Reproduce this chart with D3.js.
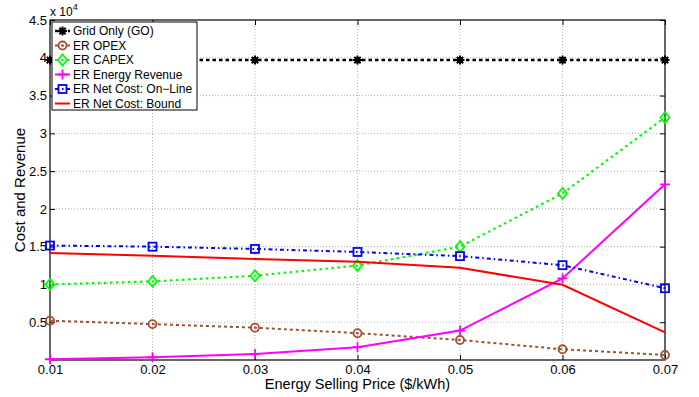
<!DOCTYPE html>
<html>
<head>
<meta charset="utf-8">
<script src="https://cdn.jsdelivr.net/npm/d3@7"></script>
<style>
    body { margin: 0; background: #fff; }
    text { font-family: "Liberation Sans", Arial, Helvetica, sans-serif; fill: #000; }
</style>
</head>
<body>
<div id="chartDiv"></div>
<script>
"use strict";

// chart data
var prices = [0.01, 0.02, 0.03, 0.04, 0.05, 0.06, 0.07];
var gridOnly = [39700, 39700, 39700, 39700, 39700, 39700, 39700];
var erOpex = [5200, 4750, 4280, 3550, 2650, 1420, 660];
var erCapex = [10000, 10400, 11150, 12500, 15000, 22050, 32100];
var erRevenue = [100, 360, 800, 1700, 3900, 10800, 23250];
var netOnline = [15150, 15000, 14700, 14300, 13750, 12550, 9500];
var netBound = [14150, 13800, 13370, 13000, 12200, 9950, 3650];

var yTicks = [5000, 10000, 15000, 20000, 25000, 30000, 35000, 40000, 45000];
var yTickLabels = ["0.5", "1", "1.5", "2", "2.5", "3", "3.5", "4", "4.5"];
var xTickLabels = ["0.01", "0.02", "0.03", "0.04", "0.05", "0.06", "0.07"];

var seriesNames = ["Grid Only (GO)", "ER OPEX", "ER CAPEX", "ER Energy Revenue", "ER Net Cost: On\u2212Line", "ER Net Cost: Bound"];

// svg element parameters
var svgWidth = 699;
var svgHeight = 397;
var plotLeft = 50, plotRight = 665, plotTop = 20, plotBottom = 360;

var series = [
    {name: seriesNames[0], values: gridOnly, color: "#000000", dash: "3.5,3", width: 2.4, marker: "asterisk"},
    {name: seriesNames[1], values: erOpex, color: "#a0522d", dash: "3,3", width: 2, marker: "circle"},
    {name: seriesNames[2], values: erCapex, color: "#00ff00", dash: "2.5,3.5", width: 2.2, marker: "diamond"},
    {name: seriesNames[3], values: erRevenue, color: "#ff00ff", dash: null, width: 2, marker: "plus"},
    {name: seriesNames[4], values: netOnline, color: "#0000ff", dash: "4,3,1.5,3", width: 2, marker: "square"},
    {name: seriesNames[5], values: netBound, color: "#ff0000", dash: null, width: 2, marker: null}
];

var svg = d3.select("#chartDiv").append("svg").attr("width", svgWidth).attr("height", svgHeight);

var x = d3.scaleLinear().domain([0.01, 0.07]).range([plotLeft, plotRight]);
var y = d3.scaleLinear().domain([0, 45000]).range([plotBottom, plotTop]);

// grid lines
var grid = svg.append("g").attr("class", "grid");
grid.selectAll("line.gx").data(prices.slice(1, -1)).enter().append("line")
    .attr("x1", function (d) { return x(d); }).attr("x2", function (d) { return x(d); })
    .attr("y1", plotTop).attr("y2", plotBottom)
    .attr("stroke", "#b4b4b4").attr("stroke-width", 1).attr("stroke-dasharray", "1,2");
grid.selectAll("line.gy").data(yTicks.slice(0, -1)).enter().append("line")
    .attr("x1", plotLeft).attr("x2", plotRight)
    .attr("y1", function (d) { return y(d); }).attr("y2", function (d) { return y(d); })
    .attr("stroke", "#b4b4b4").attr("stroke-width", 1).attr("stroke-dasharray", "1,2");

// axes, ticks pointing inward like matlab
function styleAxis(g) {
    g.select(".domain").remove();
    g.selectAll(".tick line").attr("stroke", "#000");
    g.selectAll(".tick text").style("font-size", "13px")
        .style("font-family", "'Liberation Sans', Arial, Helvetica, sans-serif");
}

svg.append("g").attr("transform", "translate(0," + plotBottom + ")")
    .call(d3.axisBottom(x).tickValues(prices).tickSizeInner(-5).tickSizeOuter(0).tickPadding(5)
        .tickFormat(function (d, i) { return xTickLabels[i]; }))
    .call(styleAxis);
svg.append("g").attr("transform", "translate(0," + plotTop + ")")
    .call(d3.axisTop(x).tickValues(prices).tickSizeInner(-5).tickSizeOuter(0).tickFormat(""))
    .call(styleAxis);
svg.append("g").attr("transform", "translate(" + plotLeft + ",0)")
    .call(d3.axisLeft(y).tickValues(yTicks).tickSizeInner(-5).tickSizeOuter(0).tickPadding(3)
        .tickFormat(function (d, i) { return yTickLabels[i]; }))
    .call(styleAxis);
svg.append("g").attr("transform", "translate(" + plotRight + ",0)")
    .call(d3.axisRight(y).tickValues(yTicks).tickSizeInner(-5).tickSizeOuter(0).tickFormat(""))
    .call(styleAxis);

// plot box
svg.append("rect").attr("x", plotLeft).attr("y", plotTop)
    .attr("width", plotRight - plotLeft).attr("height", plotBottom - plotTop)
    .attr("fill", "none").attr("stroke", "#000").attr("stroke-width", 1.2);

// exponent label
var expo = svg.append("text").attr("x", plotLeft).attr("y", 16).style("font-size", "12px");
expo.append("tspan").text("x 10");
expo.append("tspan").attr("dy", -6).style("font-size", "9px").text("4");

// axis titles
svg.append("text").attr("x", (plotLeft + plotRight) / 2).attr("y", 389)
    .attr("text-anchor", "middle").style("font-size", "14.5px")
    .text("Energy Selling Price ($/kWh)");
svg.append("text").attr("transform", "translate(25," + ((plotTop + plotBottom) / 2) + ") rotate(-90)")
    .attr("text-anchor", "middle").style("font-size", "15px")
    .text("Cost and Revenue");

// marker drawing
function drawMarker(g, type, color) {
    if (type == "circle") {
        g.append("circle").attr("r", 4).attr("fill", "none").attr("stroke", color).attr("stroke-width", 1.8);
    }
    else if (type == "diamond") {
        g.append("path").attr("d", "M0,-5.5L4.5,0L0,5.5L-4.5,0Z").attr("fill", "none").attr("stroke", color).attr("stroke-width", 1.8);
    }
    else if (type == "square") {
        g.append("rect").attr("x", -4).attr("y", -4).attr("width", 8).attr("height", 8)
            .attr("fill", "none").attr("stroke", color).attr("stroke-width", 1.8);
    }
    else if (type == "plus") {
        g.append("path").attr("d", "M-5,0H5M0,-5V5").attr("stroke", color).attr("stroke-width", 1.8);
    }
    else if (type == "asterisk") {
        g.append("path").attr("d", "M-4.5,0H4.5M0,-4.5V4.5M-3.2,-3.2L3.2,3.2M-3.2,3.2L3.2,-3.2")
            .attr("stroke", color).attr("stroke-width", 2);
        g.append("circle").attr("r", 3).attr("fill", color);
    }
}

// series lines
var line = d3.line()
    .x(function (d, i) { return x(prices[i]); })
    .y(function (d) { return y(d); });

var seriesGroup = svg.append("g").attr("class", "series");
series.forEach(function (s) {
    seriesGroup.append("path").datum(s.values)
        .attr("d", line)
        .attr("fill", "none")
        .attr("stroke", s.color)
        .attr("stroke-width", s.width)
        .attr("stroke-dasharray", s.dash);
    if (s.marker) {
        s.values.forEach(function (v, i) {
            var g = seriesGroup.append("g").attr("transform", "translate(" + x(prices[i]) + "," + y(v) + ")");
            drawMarker(g, s.marker, s.color);
        });
    }
});

// legend
var legend = svg.append("g").attr("class", "legend");
legend.append("rect").attr("x", 52).attr("y", 22).attr("width", 145).attr("height", 88)
    .attr("fill", "#fff").attr("stroke", "#000").attr("stroke-width", 1);
series.forEach(function (s, i) {
    var ly = 31 + i * 14.5;
    legend.append("line").attr("x1", 55).attr("x2", 70).attr("y1", ly).attr("y2", ly)
        .attr("stroke", s.color).attr("stroke-width", s.width).attr("stroke-dasharray", s.dash);
    if (s.marker) {
        var g = legend.append("g").attr("transform", "translate(62.5," + ly + ")");
        drawMarker(g, s.marker, s.color);
    }
    legend.append("text").attr("x", 73).attr("y", ly).attr("dy", "0.35em")
        .style("font-size", "12px").text(s.name);
});
</script>
</body>
</html>
